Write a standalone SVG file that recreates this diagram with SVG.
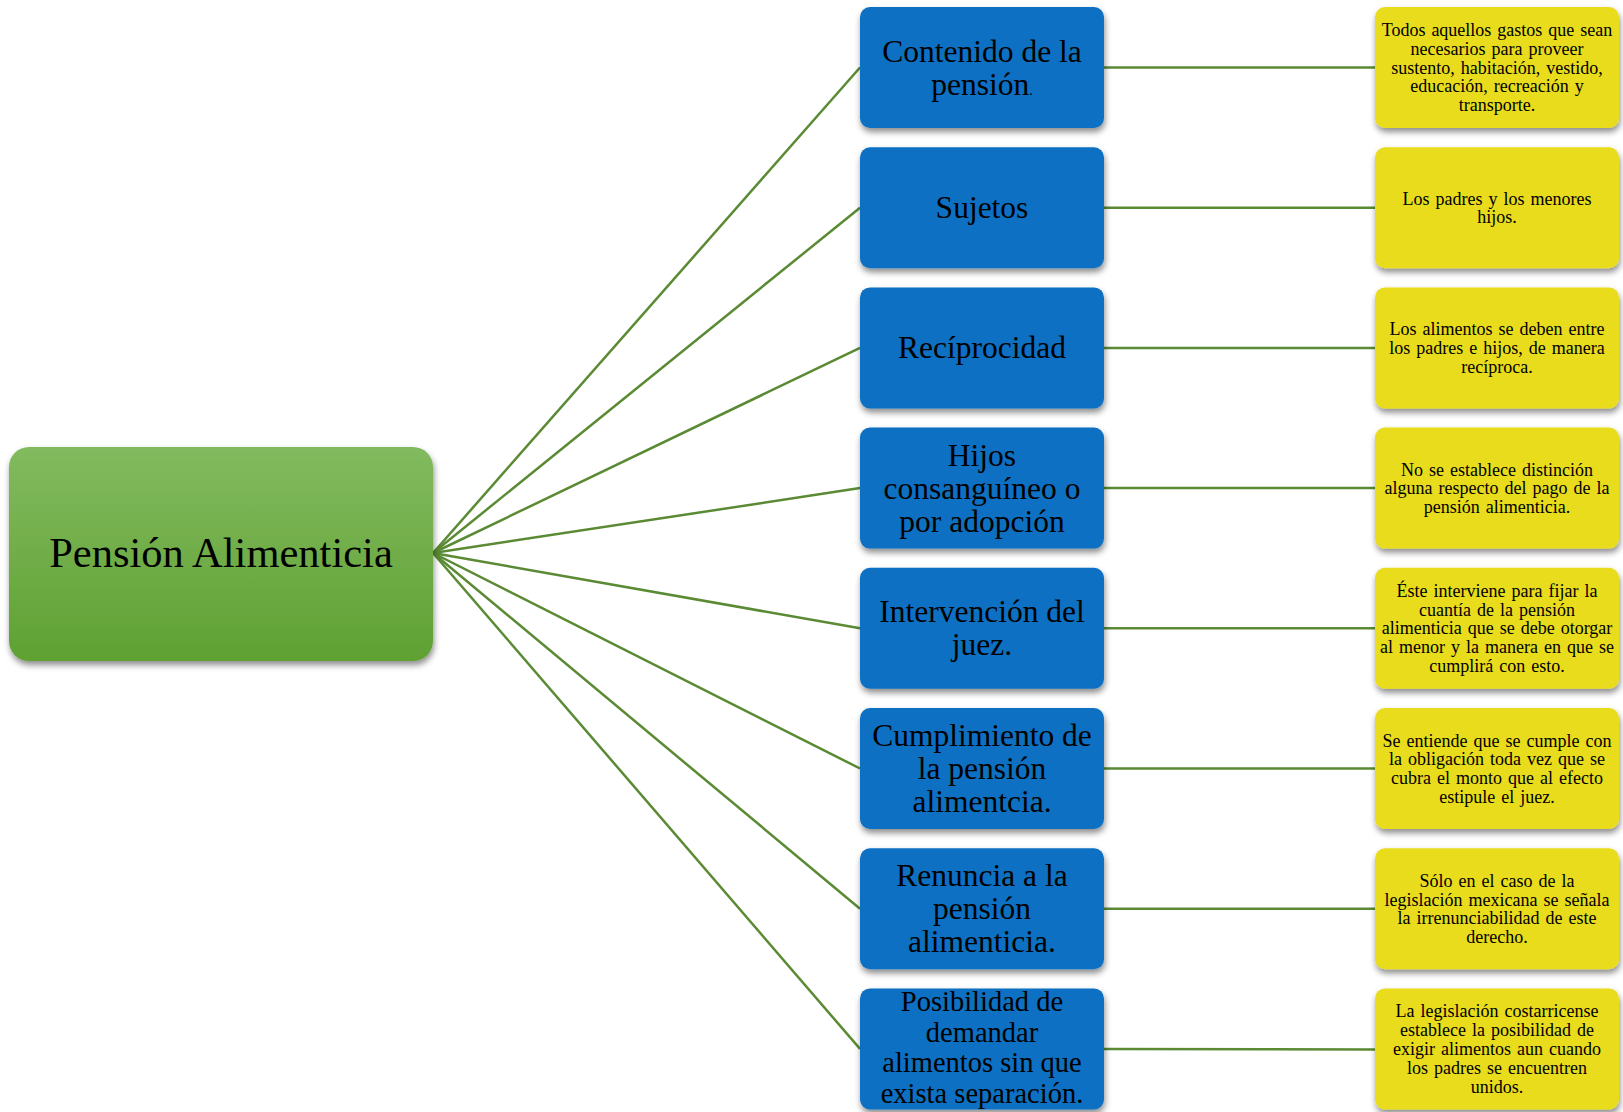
<svg xmlns="http://www.w3.org/2000/svg" width="1623" height="1112" viewBox="0 0 1623 1112">
<defs>
<linearGradient id="gRoot" x1="0" y1="0" x2="0" y2="1">
<stop offset="0" stop-color="#82BA5F"/>
<stop offset="1" stop-color="#5FA132"/>
</linearGradient>
<filter id="sh" x="-10%" y="-10%" width="120%" height="130%">
<feDropShadow dx="1" dy="4" stdDeviation="3" flood-color="#000" flood-opacity="0.45"/>
</filter>
<style>
.blue{fill:#0A70C2;filter:url(#sh)}
.yel{fill:#E8DC1A;filter:url(#sh)}
.root{fill:url(#gRoot);filter:url(#sh)}
text{font-family:"Liberation Serif","Times New Roman",serif;fill:#000;text-anchor:middle}
.bt{font-size:31.5px}
.bt2{font-size:28.5px}
.yt{font-size:18px;word-spacing:1.5px}
.rt{font-size:42.5px}
.con line{stroke:#5A8A33;stroke-width:2.5;fill:none}
</style>
</defs>
<rect width="1623" height="1112" fill="#fff"/>
<g id="connectors" class="con">
<line x1="433" y1="553" x2="860" y2="67.5"/>
<line x1="433" y1="553" x2="860" y2="207.7"/>
<line x1="433" y1="553" x2="860" y2="347.9"/>
<line x1="433" y1="553" x2="860" y2="488.1"/>
<line x1="433" y1="553" x2="860" y2="628.3"/>
<line x1="433" y1="553" x2="860" y2="768.5"/>
<line x1="433" y1="553" x2="860" y2="908.7"/>
<line x1="433" y1="553" x2="860" y2="1048.9"/>
<line x1="1104" y1="67.5" x2="1375" y2="67.5"/>
<line x1="1104" y1="207.7" x2="1375" y2="207.7"/>
<line x1="1104" y1="347.9" x2="1375" y2="347.9"/>
<line x1="1104" y1="488.1" x2="1375" y2="488.1"/>
<line x1="1104" y1="628.3" x2="1375" y2="628.3"/>
<line x1="1104" y1="768.5" x2="1375" y2="768.5"/>
<line x1="1104" y1="908.7" x2="1375" y2="908.7"/>
<line x1="1104" y1="1048.9" x2="1375" y2="1049.5"/>
</g>
<g id="root">
<rect class="root" x="9" y="447" width="424" height="214" rx="20"/>
<text class="rt" x="221" y="567">Pensión Alimenticia</text>
</g>
<g id="n1">
<rect class="blue" x="860" y="7" width="244" height="121" rx="10"/>
<text class="bt" x="982" y="61.5">Contenido de la</text>
<text class="bt" x="982" y="94.5">pensión<tspan font-size="14">.</tspan></text>
</g>
<g id="n2">
<rect class="blue" x="860" y="147.2" width="244" height="121" rx="10"/>
<text class="bt" x="982" y="218.2">Sujetos</text>
</g>
<g id="n3">
<rect class="blue" x="860" y="287.4" width="244" height="121" rx="10"/>
<text class="bt" x="982" y="358.4">Recíprocidad</text>
</g>
<g id="n4">
<rect class="blue" x="860" y="427.6" width="244" height="121" rx="10"/>
<text class="bt" x="982" y="465.6">Hijos</text>
<text class="bt" x="982" y="498.6">consanguíneo o</text>
<text class="bt" x="982" y="531.6">por adopción</text>
</g>
<g id="n5">
<rect class="blue" x="860" y="567.8" width="244" height="121" rx="10"/>
<text class="bt" x="982" y="622.3">Intervención del</text>
<text class="bt" x="982" y="655.3">juez.</text>
</g>
<g id="n6">
<rect class="blue" x="860" y="708" width="244" height="121" rx="10"/>
<text class="bt" x="982" y="746">Cumplimiento de</text>
<text class="bt" x="982" y="779">la pensión</text>
<text class="bt" x="982" y="812">alimentcia.</text>
</g>
<g id="n7">
<rect class="blue" x="860" y="848.2" width="244" height="121" rx="10"/>
<text class="bt" x="982" y="886.2">Renuncia a la</text>
<text class="bt" x="982" y="919.2">pensión</text>
<text class="bt" x="982" y="952.2">alimenticia.</text>
</g>
<g id="n8">
<rect class="blue" x="860" y="988.4" width="244" height="121" rx="10"/>
<text class="bt2" x="982" y="1011.2">Posibilidad de</text>
<text class="bt2" x="982" y="1041.7">demandar</text>
<text class="bt2" x="982" y="1072.2">alimentos sin que</text>
<text class="bt2" x="982" y="1102.7">exista separación.</text>
</g>
<g id="d1">
<rect class="yel" x="1375" y="7" width="244" height="121" rx="10"/>
<text class="yt" x="1497" y="36.4">Todos aquellos gastos que sean</text>
<text class="yt" x="1497" y="55">necesarios para proveer</text>
<text class="yt" x="1497" y="73.6">sustento, habitación, vestido,</text>
<text class="yt" x="1497" y="92.2">educación, recreación y</text>
<text class="yt" x="1497" y="110.8">transporte.</text>
</g>
<g id="d2">
<rect class="yel" x="1375" y="147.2" width="244" height="121" rx="10"/>
<text class="yt" x="1497" y="204.5">Los padres y los menores</text>
<text class="yt" x="1497" y="223.1">hijos.</text>
</g>
<g id="d3">
<rect class="yel" x="1375" y="287.4" width="244" height="121" rx="10"/>
<text class="yt" x="1497" y="335.4">Los alimentos se deben entre</text>
<text class="yt" x="1497" y="354">los padres e hijos, de manera</text>
<text class="yt" x="1497" y="372.6">recíproca.</text>
</g>
<g id="d4">
<rect class="yel" x="1375" y="427.6" width="244" height="121" rx="10"/>
<text class="yt" x="1497" y="475.6">No se establece distinción</text>
<text class="yt" x="1497" y="494.2">alguna respecto del pago de la</text>
<text class="yt" x="1497" y="512.8">pensión alimenticia.</text>
</g>
<g id="d5">
<rect class="yel" x="1375" y="567.8" width="244" height="121" rx="10"/>
<text class="yt" x="1497" y="597.2">Éste interviene para fijar la</text>
<text class="yt" x="1497" y="615.8">cuantía de la pensión</text>
<text class="yt" x="1497" y="634.4">alimenticia que se debe otorgar</text>
<text class="yt" x="1497" y="653">al menor y la manera en que se</text>
<text class="yt" x="1497" y="671.6">cumplirá con esto.</text>
</g>
<g id="d6">
<rect class="yel" x="1375" y="708" width="244" height="121" rx="10"/>
<text class="yt" x="1497" y="746.7">Se entiende que se cumple con</text>
<text class="yt" x="1497" y="765.3">la obligación toda vez que se</text>
<text class="yt" x="1497" y="783.9">cubra el monto que al efecto</text>
<text class="yt" x="1497" y="802.5">estipule el juez.</text>
</g>
<g id="d7">
<rect class="yel" x="1375" y="848.2" width="244" height="121" rx="10"/>
<text class="yt" x="1497" y="886.9">Sólo en el caso de la</text>
<text class="yt" x="1497" y="905.5">legislación mexicana se señala</text>
<text class="yt" x="1497" y="924.1">la irrenunciabilidad de este</text>
<text class="yt" x="1497" y="942.7">derecho.</text>
</g>
<g id="d8">
<rect class="yel" x="1375" y="988.4" width="244" height="121" rx="10"/>
<text class="yt" x="1497" y="1017.3">La legislación costarricense</text>
<text class="yt" x="1497" y="1036.1">establece la posibilidad de</text>
<text class="yt" x="1497" y="1054.9">exigir alimentos aun cuando</text>
<text class="yt" x="1497" y="1073.7">los padres se encuentren</text>
<text class="yt" x="1497" y="1092.5">unidos.</text>
</g>
</svg>
